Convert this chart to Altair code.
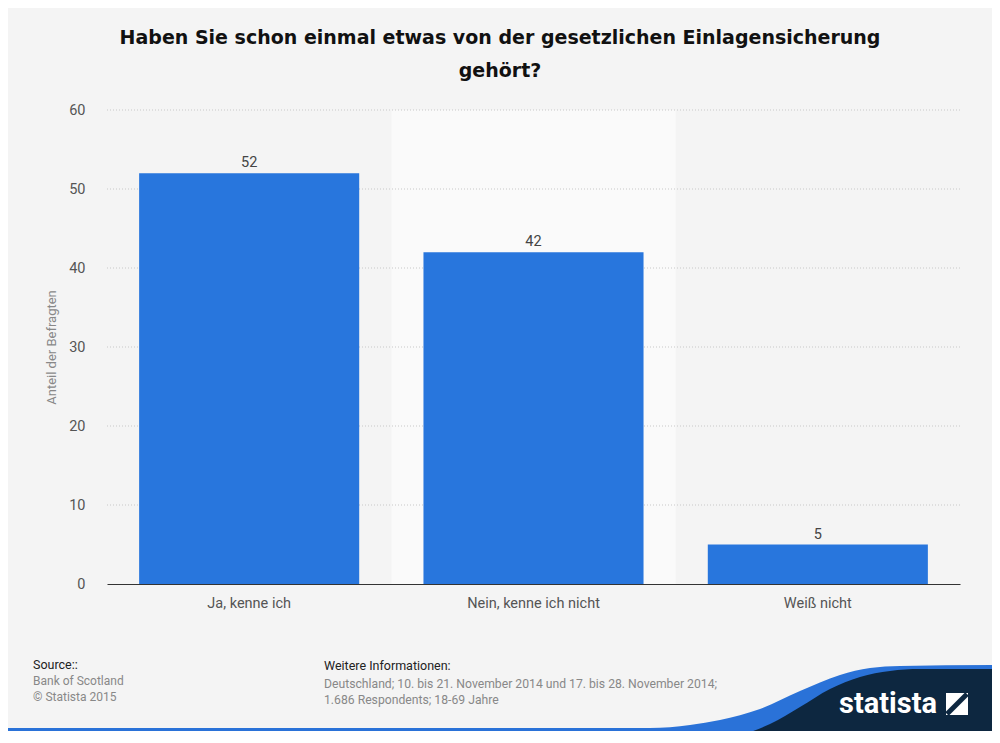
import altair as alt
import pandas as pd

# ---- data ----
categories = ["Ja, kenne ich", "Nein, kenne ich nicht", "Weiß nicht"]
values = [52, 42, 5]
y_ticks = [10, 20, 30, 40, 50, 60]
highlight_category = ["Nein, kenne ich nicht"]

title_lines = ["Haben Sie schon einmal etwas von der gesetzlichen Einlagensicherung", "gehört?"]

# logo wave outline (page pixels, decoration only)
blue_x = [8, 650, 690, 720, 760, 800, 840, 870, 900, 992]
blue_y = [736, 736, 733, 728, 717, 699, 683, 676, 674, 673]
navy_x = [745, 770, 800, 830, 860, 890, 920, 992]
navy_y = [742, 732, 715, 697, 685, 679, 677, 677]

COND = "Liberation Sans Narrow, Roboto, sans-serif"
BAR = "#2876dd"
NAVY = "#0d2740"
OX, OY, SHIFT = 107, 110, 8
BOTTOM = 731 - OY

df = pd.DataFrame({"cat": categories, "val": values})
hl = pd.DataFrame({"cat": highlight_category, "top": [60], "base": [0]})
grid = pd.DataFrame({"t": y_ticks})

xscale = alt.Scale(domain=categories, paddingInner=0.226, paddingOuter=0.113)
yscale = alt.Scale(domain=[0, 60], nice=False)

xenc = alt.X("cat:N", scale=xscale, sort=categories,
             axis=alt.Axis(title=None, labelAngle=0, labelAlign="center", ticks=False,
                           domainColor="#333333", domainWidth=1, labelPadding=19,
                           labelFont=COND, labelFontSize=14.5,
                           labelColor="#555555", grid=False))
yenc = alt.Y("val:Q", scale=yscale,
             axis=alt.Axis(title="Anteil der Befragten", values=[0, 10, 20, 30, 40, 50, 60],
                           domain=False, ticks=False, grid=False, labelPadding=22,
                           labelFont=COND, labelFontSize=14.5, labelColor="#555555",
                           titleFont=COND, titleFontSize=13, titleFontWeight="normal",
                           titleColor="#888888", titlePadding=10))

highlight = alt.Chart(hl).mark_bar(color="#fafafa", width=alt.RelativeBandSize(1.292)).encode(
    x=alt.X("cat:N", scale=xscale, sort=categories),
    y=alt.Y("top:Q", scale=yscale),
    y2="base:Q",
)

grid_layer = alt.Chart(grid).mark_rule(color="#c8c8c8", strokeDash=[1, 2], strokeWidth=1).encode(
    y=alt.Y("t:Q", scale=yscale)
)

bars = alt.Chart(df).mark_bar(color=BAR).encode(x=xenc, y=yenc)

labels = alt.Chart(df).mark_text(baseline="bottom", dy=-3, font=COND, fontSize=14.5,
                                 color="#444444").encode(
    x=alt.X("cat:N", scale=xscale, sort=categories),
    y=alt.Y("val:Q", scale=yscale),
    text="val:Q",
)


def txt(s, x, y, size, color, weight="normal", align="left", font=COND):
    return alt.Chart(pd.DataFrame({"t": [s]})).mark_text(
        font=font, fontSize=size, color=color, fontWeight=weight, align=align,
        baseline="middle").encode(x=alt.value(x), y=alt.value(y), text="t:N")


texts = [
    txt(title_lines[0], 393, -72, 19, "#111111", "bold", "center", "DejaVu Sans"),
    txt(title_lines[1], 393, -39, 19, "#111111", "bold", "center", "DejaVu Sans"),
    txt("Source::", -74, 555, 12.5, "#222222"),
    txt("Bank of Scotland", -74, 571, 12, "#888888"),
    txt("© Statista 2015", -74, 587, 12, "#888888"),
    txt("Weitere Informationen:", 217, 556, 12.5, "#222222"),
    txt("Deutschland; 10. bis 21. November 2014 und 17. bis 28. November 2014;", 217, 574, 12.2, "#888888"),
    txt("1.686 Respondents; 18-69 Jahre", 217, 590, 12.2, "#888888"),
]

blue_df = pd.DataFrame({"x": [v - OX for v in blue_x], "y": [v - OY - SHIFT for v in blue_y],
                        "y2": [BOTTOM] * len(blue_x)})
navy_df = pd.DataFrame({"x": [v - OX for v in navy_x], "y": [v - OY - SHIFT for v in navy_y],
                        "y2": [BOTTOM] * len(navy_x)})

blue_wave = alt.Chart(blue_df).mark_area(color="#2a72d8", interpolate="monotone").encode(
    x=alt.X("x:Q", scale=None), y=alt.Y("y:Q", scale=None), y2="y2:Q")
navy_wave = alt.Chart(navy_df).mark_area(color=NAVY, interpolate="monotone").encode(
    x=alt.X("x:Q", scale=None), y=alt.Y("y:Q", scale=None), y2="y2:Q")

logo_text = txt("statista", 781, 594, 29, "#ffffff", "bold", "center", COND)
icon_box = alt.Chart(pd.DataFrame({"a": [1]})).mark_rect(color="#ffffff").encode(
    x=alt.value(839), x2=alt.value(861), y=alt.value(583), y2=alt.value(605))
icon_slash = alt.Chart(pd.DataFrame({"a": [1]})).mark_rule(color=NAVY, strokeWidth=5).encode(
    x=alt.value(840), x2=alt.value(860), y=alt.value(604), y2=alt.value(584))

chart = alt.layer(
    highlight, grid_layer, bars, labels, *texts, blue_wave, navy_wave, logo_text, icon_box, icon_slash
).properties(
    width=853, height=474,
    background="#f4f4f4",
    autosize=alt.AutoSizeParams(type="none"),
    padding={"left": 99, "top": 102, "right": 32, "bottom": 147},
).configure_view(stroke=None)

chart.save("out.html", embed_options={"renderer": "svg", "actions": False})
